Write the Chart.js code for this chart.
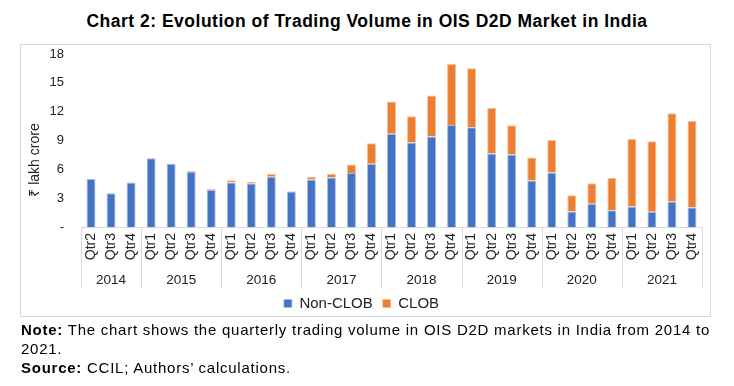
<!DOCTYPE html>
<html><head><meta charset="utf-8">
<script src="https://cdn.jsdelivr.net/npm/chart.js@4"></script>
<style>
body{margin:0;width:734px;height:386px;background:#fff;font-family:"Liberation Sans",Arial,sans-serif;position:relative;overflow:hidden}
#title{position:absolute;top:11px;left:0;width:734px;text-align:center;font-weight:bold;font-size:17.5px;letter-spacing:0.5px;color:#000}
#box{position:absolute;left:20px;top:44px;width:689px;height:271px;border:1px solid #d9d9d9}
#cv{position:absolute;left:21px;top:45px}
#notes{position:absolute;left:21px;top:319.5px;width:700px;font-size:15px;letter-spacing:0.75px;line-height:19.4px;color:#000}
</style></head><body>
<div id="title">Chart 2: Evolution of Trading Volume in OIS D2D Market in India</div>
<div id="box"></div>
<canvas id="cv" width="689" height="276"></canvas>
<div id="notes"><b>Note:</b> The chart shows the quarterly trading volume in OIS D2D markets in India from 2014 to 2021.<br><b>Source:</b> CCIL; Authors’ calculations.</div>
<script>
const quarters = ['Qtr2','Qtr3','Qtr4',
  'Qtr1','Qtr2','Qtr3','Qtr4','Qtr1','Qtr2','Qtr3','Qtr4','Qtr1','Qtr2','Qtr3','Qtr4',
  'Qtr1','Qtr2','Qtr3','Qtr4','Qtr1','Qtr2','Qtr3','Qtr4','Qtr1','Qtr2','Qtr3','Qtr4',
  'Qtr1','Qtr2','Qtr3','Qtr4'];
const years = ['2014','2015','2016','2017','2018','2019','2020','2021'];
const yearQuarterCounts = [3,4,4,4,4,4,4,4];
const nonClob = [5.00,3.52,4.63, 7.16,6.57,5.75,3.87, 4.63,4.52,5.22,3.69, 4.94,5.15,5.63,6.57,
  9.69,8.79,9.41,10.62, 10.38,7.64,7.54,4.84, 5.67,1.61,2.41,1.75, 2.13,1.58,2.65,2.03];
const clob = [0,0,0, 0,0,0.10,0.10, 0.24,0.20,0.30,0.07, 0.28,0.38,0.87,2.15,
  3.36,2.74,4.26,6.34, 6.14,4.75,3.05,2.39, 3.39,1.70,2.15,3.36, 7.04,7.35,9.19,9.01];
const yTicks = [0,3,6,9,12,15,18];
const yTitle = '₹ lakh crore';

const groupAxis = {
  id:'groupAxis',
  afterDraw(chart){
    const {ctx, chartArea, scales:{x}} = chart;
    const half = (x.getPixelForValue(1) - x.getPixelForValue(0))/2;
    const b = chartArea.bottom;
    ctx.save();
    ctx.strokeStyle = '#d9d9d9';
    ctx.lineWidth = 1;
    let idx = 0;
    const bounds = [x.getPixelForValue(0) - half];
    yearQuarterCounts.forEach(n => { idx += n; bounds.push(x.getPixelForValue(idx-1) + half); });
    bounds.forEach(px => {
      const p = Math.round(px) + 0.5;
      ctx.beginPath(); ctx.moveTo(p, b); ctx.lineTo(p, b + 61); ctx.stroke();
    });
    ctx.fillStyle = '#222';
    ctx.font = '13.5px "Liberation Sans", Arial, sans-serif';
    ctx.textAlign = 'center';
    ctx.textBaseline = 'middle';
    years.forEach((yr,i) => { ctx.fillText(yr, (bounds[i]+bounds[i+1])/2, b + 53); });
    ctx.translate(14, 115);
    ctx.rotate(-Math.PI/2);
    ctx.font = '14px "Liberation Sans", Arial, sans-serif';
    ctx.fillText(yTitle, 0, 0);
    ctx.restore();
  }
};

new Chart(document.getElementById('cv'), {
  type:'bar',
  data:{
    labels: quarters,
    datasets:[
      {label:'Non-CLOB', data:nonClob, backgroundColor:'#4472C4', borderColor:'#a9bce6', borderWidth:{left:1,right:1,top:1,bottom:0}, borderSkipped:false},
      {label:'CLOB', data:clob, backgroundColor:'#ED7D31', borderColor:'#f6bf98', borderWidth:{left:1,right:1,top:1,bottom:0}, borderSkipped:false}
    ]
  },
  options:{
    responsive:false, animation:false, devicePixelRatio:1,
    layout:{padding:{left:0,right:8,top:9,bottom:0}},
    datasets:{bar:{categoryPercentage:1, barPercentage:0.45}},
    plugins:{
      legend:{position:'bottom', labels:{boxWidth:8, boxHeight:8, padding:10, color:'#222', font:{size:15, family:'"Liberation Sans", Arial, sans-serif'}}},
      tooltip:{enabled:false}
    },
    scales:{
      x:{stacked:true, grid:{display:false, drawTicks:false}, border:{display:true, color:'#d9d9d9'},
        ticks:{autoSkip:false, minRotation:90, maxRotation:90, padding:6, color:'#222', font:{size:14, family:'"Liberation Sans", Arial, sans-serif'}},
        afterFit(s){ s.height = 59; s.paddingLeft = 0; s.paddingRight = 0; s.paddingTop = 0; s.paddingBottom = 0; }},
      y:{stacked:true, min:0, max:18, grid:{display:false, drawTicks:false}, border:{display:false},
        afterBuildTicks(s){ s.ticks = yTicks.map(v => ({value:v})); },
        ticks:{padding:17, color:'#222', font:{size:13, family:'"Liberation Sans", Arial, sans-serif'}, callback:v => v === 0 ? '-' : v},
        afterFit(s){ s.width = 60; s.paddingTop = 0; s.paddingBottom = 0; }}
    }
  },
  plugins:[groupAxis]
});
</script>
</body></html>
